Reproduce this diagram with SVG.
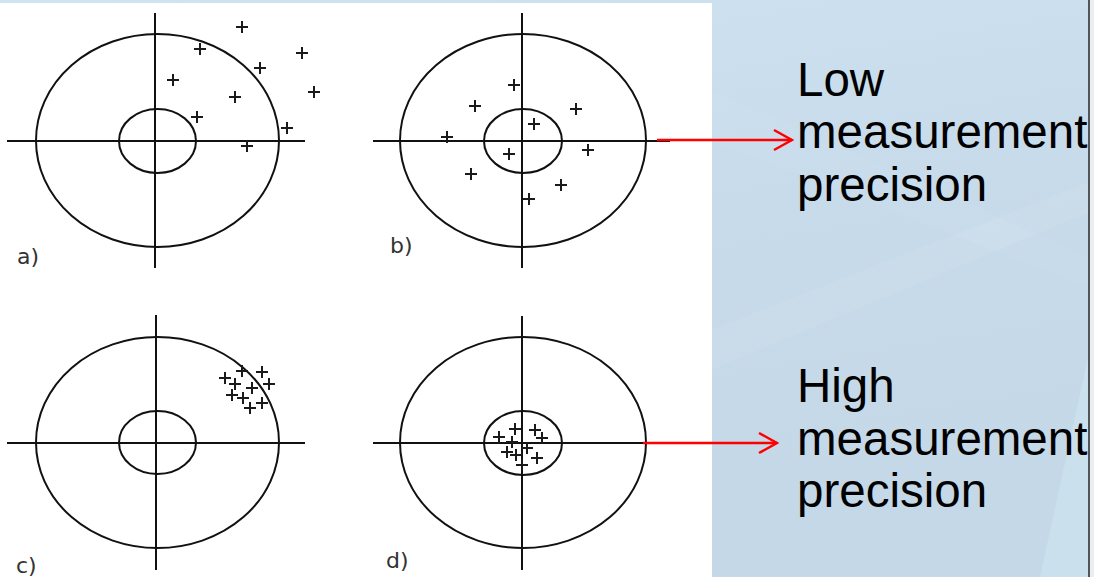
<svg xmlns="http://www.w3.org/2000/svg" xmlns:xlink="http://www.w3.org/1999/xlink" width="1094" height="577" viewBox="0 0 1094 577">
<style>
.ax{stroke:#111;stroke-width:2;fill:none}
.el{stroke:#111;stroke-width:2;fill:none}
.cr{stroke:#1a1a1a;stroke-width:2;fill:none}
.lab{font-family:"DejaVu Sans",sans-serif;font-size:22px;fill:#333}
.big{font-family:"Liberation Sans",Arial,sans-serif;font-size:47.5px;fill:#000}
.con{stroke:#ff0000;stroke-width:2.5;fill:none}
</style>
<defs>
<linearGradient id="bg" x1="0" y1="0" x2="0.3" y2="1">
<stop offset="0" stop-color="#d0e3f1"/>
<stop offset="0.5" stop-color="#c7dbea"/>
<stop offset="1" stop-color="#c4d8e7"/>
</linearGradient>
<path id="x" d="M-6 0H6M0 -6V6"/>
<marker id="ah" viewBox="-20 -12 22 24" refX="0" refY="0" markerWidth="22" markerHeight="24" markerUnits="userSpaceOnUse" orient="auto">
<path d="M-18 -10L0 0L-18 10" stroke="#ff0000" stroke-width="2.5" fill="none"/>
</marker>
</defs>
<rect width="1094" height="577" fill="url(#bg)"/>
<polygon points="711,330 1094,180 1094,210 711,370" fill="#ffffff" opacity="0.07"/>
<polygon points="711,90 1094,260 1094,290 711,140" fill="#ffffff" opacity="0.05"/>
<polygon points="1040,577 1094,330 1094,577" fill="#cfe6f2" opacity="0.6"/>
<rect x="1088" y="0" width="2" height="577" fill="#555"/>
<rect x="1090" y="0" width="4" height="577" fill="#e9eef2"/>
<rect x="0" y="3" width="712" height="574" fill="#ffffff"/>

<g id="panel-a">
<line class="ax" x1="155" y1="13" x2="155" y2="268"/>
<line class="ax" x1="7" y1="141" x2="305" y2="141"/>
<ellipse class="el" cx="157.5" cy="140.5" rx="121.5" ry="106.5"/>
<ellipse class="el" cx="157.5" cy="141" rx="38.5" ry="32"/>
<g class="cr">
<use xlink:href="#x" x="242" y="27"/>
<use xlink:href="#x" x="200" y="49"/>
<use xlink:href="#x" x="302" y="53"/>
<use xlink:href="#x" x="260" y="68"/>
<use xlink:href="#x" x="173" y="80"/>
<use xlink:href="#x" x="235" y="97"/>
<use xlink:href="#x" x="314" y="92"/>
<use xlink:href="#x" x="197" y="117"/>
<use xlink:href="#x" x="287" y="128"/>
<use xlink:href="#x" x="247" y="146"/>
</g>
<text class="lab" x="17" y="264">a)</text>
</g>

<g id="panel-b">
<line class="ax" x1="522" y1="13" x2="522" y2="268"/>
<line class="ax" x1="373" y1="141" x2="670" y2="141"/>
<ellipse class="el" cx="523" cy="140.5" rx="123" ry="106.5"/>
<ellipse class="el" cx="523" cy="141" rx="39" ry="32"/>
<g class="cr">
<use xlink:href="#x" x="514" y="85"/>
<use xlink:href="#x" x="475" y="106"/>
<use xlink:href="#x" x="576" y="109"/>
<use xlink:href="#x" x="534" y="124"/>
<use xlink:href="#x" x="447" y="137"/>
<use xlink:href="#x" x="588" y="150"/>
<use xlink:href="#x" x="509" y="154"/>
<use xlink:href="#x" x="471" y="174"/>
<use xlink:href="#x" x="561" y="185"/>
<use xlink:href="#x" x="529" y="199"/>
</g>
<text class="lab" x="390" y="253">b)</text>
</g>

<g id="panel-c">
<line class="ax" x1="156" y1="315" x2="156" y2="570"/>
<line class="ax" x1="7" y1="443" x2="305" y2="443"/>
<ellipse class="el" cx="157.5" cy="442.5" rx="121.5" ry="105.5"/>
<ellipse class="el" cx="157.5" cy="442.5" rx="38.5" ry="31.5"/>
<g class="cr">
<use xlink:href="#x" x="225" y="378"/>
<use xlink:href="#x" x="242" y="371"/>
<use xlink:href="#x" x="262" y="372"/>
<use xlink:href="#x" x="235" y="384"/>
<use xlink:href="#x" x="269" y="384"/>
<use xlink:href="#x" x="252" y="388"/>
<use xlink:href="#x" x="232" y="395"/>
<use xlink:href="#x" x="243" y="398"/>
<use xlink:href="#x" x="262" y="403"/>
<use xlink:href="#x" x="250" y="408"/>
</g>
<text class="lab" x="16" y="573">c)</text>
</g>

<g id="panel-d">
<line class="ax" x1="522" y1="316" x2="522" y2="570"/>
<line class="ax" x1="373" y1="443" x2="670" y2="443"/>
<ellipse class="el" cx="523" cy="442.5" rx="123" ry="105.5"/>
<ellipse class="el" cx="523" cy="443" rx="39" ry="32"/>
<g class="cr">
<use xlink:href="#x" x="499" y="437"/>
<use xlink:href="#x" x="515" y="429"/>
<use xlink:href="#x" x="535" y="430"/>
<use xlink:href="#x" x="542" y="438"/>
<use xlink:href="#x" x="512" y="442"/>
<use xlink:href="#x" x="527" y="448"/>
<use xlink:href="#x" x="507" y="452"/>
<use xlink:href="#x" x="516" y="455"/>
<use xlink:href="#x" x="537" y="458"/>
<use xlink:href="#x" x="522" y="465"/>
</g>
<text class="lab" x="386" y="568">d)</text>
</g>

<g id="connectors">
<line class="con" x1="657" y1="140" x2="792" y2="140" marker-end="url(#ah)"/>
<line class="con" x1="643" y1="443" x2="777" y2="443" marker-end="url(#ah)"/>
</g>

<g id="label-low">
<text class="big" x="797" y="96">Low</text>
<text class="big" x="797" y="148">measurement</text>
<text class="big" x="797" y="201">precision</text>
</g>
<g id="label-high">
<text class="big" x="797" y="402">High</text>
<text class="big" x="797" y="455">measurement</text>
<text class="big" x="797" y="507">precision</text>
</g>
</svg>
